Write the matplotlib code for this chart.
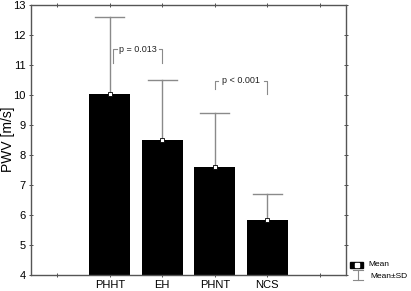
import matplotlib
matplotlib.use("Agg")
import matplotlib.pyplot as plt
from matplotlib.patches import Rectangle
from matplotlib.lines import Line2D

plt.rcParams['font.family'] = ['Liberation Sans', 'DejaVu Sans']

categories = ["PHHT", "EH", "PHNT", "NCS"]
means = [10.05, 8.5, 7.61, 5.83]
sds = [2.56, 2.0, 1.78, 0.88]
y_ticks = [4, 5, 6, 7, 8, 9, 10, 11, 12, 13]
ylabel = "PWV [m/s]"
comparisons = [("p = 0.013", 1.06, 2.0, 11.53, 11.07, 11.07),
               ("p < 0.001", 3.0, 4.0, 10.48, 10.2, 10.03)]

W, H = 411, 291
fig = plt.figure(figsize=(W / 100, H / 100), dpi=100)
ax = fig.add_axes([31 / W, 1 - 275 / H, (346 - 31) / W, (275 - 5) / H])

xs = list(range(1, len(categories) + 1))
ax.bar(xs, means, width=0.79, bottom=0, color="black", zorder=2)
gray = "#8a8a8a"
for x, m, s in zip(xs, means, sds):
    ax.plot([x, x], [m, m + s], color=gray, lw=1.0, zorder=3)
    ax.plot([x - 0.28, x + 0.28], [m + s, m + s], color=gray, lw=1.0, zorder=3)
ax.plot(xs, means, ls="none", marker="s", ms=3, mfc="white", mec="black", mew=0.6, zorder=4)

for label, x0, x1, ytop, yl, yr in comparisons:
    ax.plot([x0, x0, x0 + 0.07], [yl, ytop, ytop], color=gray, lw=0.8)
    ax.plot([x1 - 0.07, x1, x1], [ytop, ytop, yr], color=gray, lw=0.8)
    ax.text((x0 + x1) / 2, ytop, label, ha="center", va="center", fontsize=6.5, color="#222222")

ax.set_xlim(-0.5, 5.5)
ax.set_ylim(4, 13)
ax.set_yticks(y_ticks)
ax.set_xticks(range(0, 6))
ax.set_xticklabels([""] + categories + [""], fontsize=8)
ax.tick_params(axis="y", labelsize=8)
ax.tick_params(which="both", direction="inout", length=2.5, width=0.6, color="#333333",
               top=True, right=True, pad=2.5)
for sp in ax.spines.values():
    sp.set_color("#555555")
    sp.set_linewidth(1.0)

fig.text(8.5 / W, 1 - 139 / H, ylabel, rotation=90, fontsize=10, ha="center", va="center")

# legend drawn manually in figure pixel coordinates
def fx(px):
    return px / W

def fy(py):
    return 1 - py / H

fig.patches.append(Rectangle((fx(350), fy(268)), fx(363) - fx(350), fy(261.5) - fy(268),
                             transform=fig.transFigure, facecolor="black", edgecolor="black"))
fig.lines.append(Line2D([fx(356.5)], [fy(264.8)], transform=fig.transFigure, marker="s", ms=2.2,
                        mfc="white", mec="white", ls="none"))
fig.text(fx(368), fy(264), "Mean", fontsize=6, va="center", ha="left")
fig.lines.append(Line2D([fx(352.5), fx(362.5)], [fy(270), fy(270)], transform=fig.transFigure, color=gray, lw=0.8))
fig.lines.append(Line2D([fx(357.5), fx(357.5)], [fy(270), fy(280)], transform=fig.transFigure, color=gray, lw=0.8))
fig.lines.append(Line2D([fx(352.5), fx(362.5)], [fy(280), fy(280)], transform=fig.transFigure, color=gray, lw=0.8))
fig.text(fx(370), fy(276.5), "Mean±SD", fontsize=6, va="center", ha="left")

fig.savefig("out.png", dpi=100)
